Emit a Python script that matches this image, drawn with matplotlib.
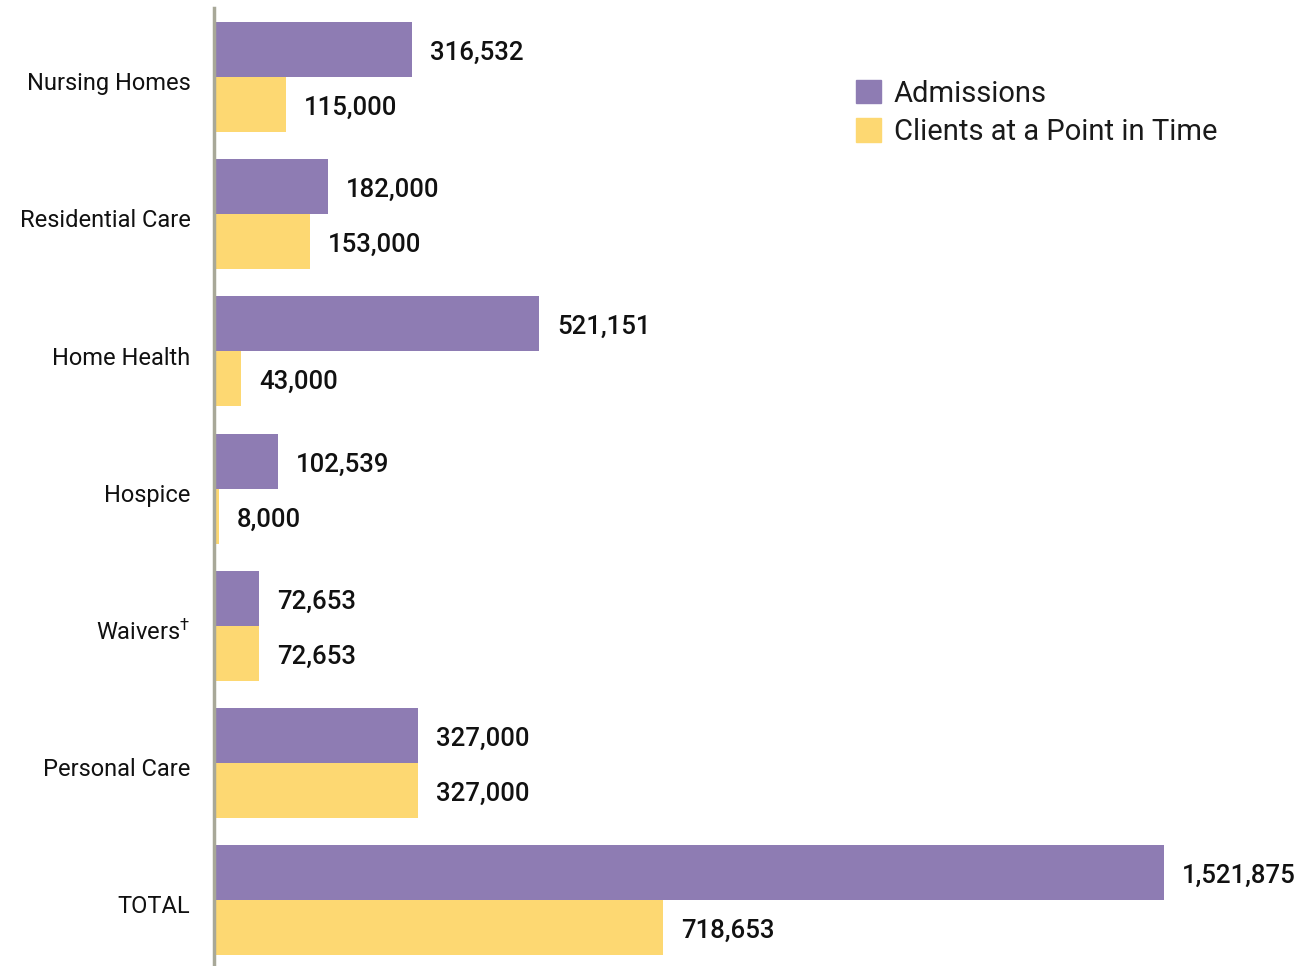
import numpy as np
import matplotlib
matplotlib.use("Agg")
import matplotlib.pyplot as plt
import matplotlib.transforms as mtransforms
from matplotlib.patches import Patch

categories = ["Nursing Homes", "Residential Care", "Home Health", "Hospice",
              "Waivers$^{†}$", "Personal Care", "TOTAL"]
admissions = [316532, 182000, 521151, 102539, 72653, 327000, 1521875]
clients = [115000, 153000, 43000, 8000, 72653, 327000, 718653]
series_names = ["Admissions", "Clients at a Point in Time"]

PURPLE = "#8E7CB3"
YELLOW = "#FDD872"

plt.rcParams["font.family"] = ["Roboto", "DejaVu Sans"]
plt.rcParams["mathtext.fontset"] = "custom"
plt.rcParams["mathtext.rm"] = "Roboto"
plt.rcParams["mathtext.default"] = "regular"

fig = plt.figure(figsize=(12.99, 9.66), dpi=100)
ax = fig.add_axes([214 / 1299, 0, 1 - 214 / 1299, 1 - 8 / 966])

y = np.arange(len(categories))
h = 0.401
ax.barh(y - h / 2, admissions, height=h, color=PURPLE, label=series_names[0])
ax.barh(y + h / 2, clients, height=h, color=YELLOW, label=series_names[1])

ax.set_xlim(0, 1738150)
ax.set_ylim(6.481, -0.503)

# value labels just past the end of each bar
for yi, a, c in zip(y, admissions, clients):
    for val, off in ((a, -h / 2), (c, h / 2)):
        ax.annotate(f"{val:,}", (val, yi + off), xytext=(13, -2.5),
                    textcoords="offset points", va="center", ha="left",
                    fontsize=18.5, fontweight="medium", color="#111111")

ax.set_yticks(y)
ax.set_yticklabels(categories, fontsize=17, color="#111111")
ax.tick_params(axis="y", length=0, pad=17)
ax.set_xticks([])
# nudge category labels down a little
shift = mtransforms.ScaledTranslation(0, -3 / 72, fig.dpi_scale_trans)
for lbl in ax.get_yticklabels():
    lbl.set_transform(lbl.get_transform() + shift)

for s in ["top", "right", "bottom"]:
    ax.spines[s].set_visible(False)
ax.spines["left"].set_color("#A8A898")
ax.spines["left"].set_linewidth(2.5)

handles = [Patch(color=PURPLE), Patch(color=YELLOW)]
fig.legend(handles, series_names, loc="upper left",
           bbox_to_anchor=(850 / 1299, 1 - 74 / 966), frameon=False,
           prop={"weight": "normal", "size": 21},
           handlelength=0.85, handleheight=0.85, handletextpad=0.45,
           labelspacing=0.35, borderaxespad=0, borderpad=0.2,
           labelcolor="#1a1a1a")

fig.savefig("out.png", dpi=100)
